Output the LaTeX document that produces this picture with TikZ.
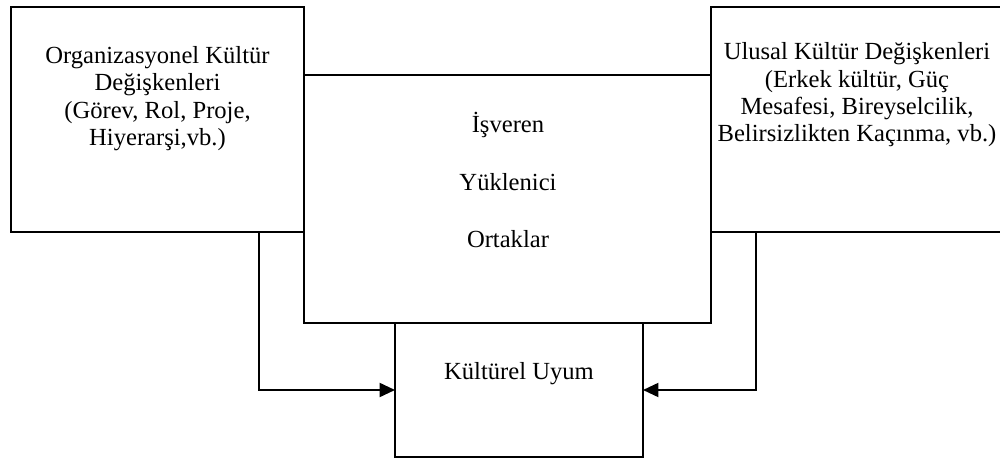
\documentclass[tikz,border=0pt]{standalone}
\usepackage{fontspec}
\setmainfont{Liberation Serif}
\usetikzlibrary{arrows.meta}

\begin{document}
\begin{tikzpicture}[
    kutu/.style={draw, line width=1.4pt, fill=white, inner sep=0pt, outer sep=0pt},
    metin/.style={align=center, font=\fontsize{17.5}{19.5}\selectfont},
    ok/.style={line width=1.4pt, -{Triangle[length=11pt,width=10pt]}}
  ]
  \useasboundingbox (0,0) rectangle (25,-11.5);
  % orta kutu ve altindaki uyum kutusu
  \node[kutu, minimum width=10.175cm, minimum height=6.2cm] (taraflar) at (12.6875,-4.975) {};
  \node[kutu, minimum width=6.2cm, minimum height=3.35cm] (uyum) at (12.975,-9.75) {};
  % iki yan kutu
  \node[kutu, minimum width=7.325cm, minimum height=5.625cm] (orgkultur) at (3.9375,-2.9875) {};
  \node[kutu, minimum width=7.325cm, minimum height=5.625cm] (ulusal) at (21.4375,-2.9875) {};
  % yazilar
  \node[metin] (orgmetin) at (3.9375,-2.47) {Organizasyonel Kültür\\Değişkenleri\\(Görev, Rol, Proje,\\Hiyerarşi,vb.)};
  \node[metin] (ulusalmetin) at (21.425,-2.37) {Ulusal Kültür Değişkenleri\\(Erkek kültür, Güç\\Mesafesi, Bireyselcilik,\\Belirsizlikten Kaçınma, vb.)};
  \node[metin] (tarafmetin) at (12.7,-4.5) {İşveren\\[21.3pt]Yüklenici\\[21.3pt]Ortaklar};
  \node[metin] (uyummetin) at (12.975,-9.33) {Kültürel Uyum};
  % oklar
  \draw[ok] ([xshift=6.2cm]orgkultur.south west) |- (uyum.west);
  \draw[ok] ([xshift=1.125cm]ulusal.south west) |- (uyum.east);
\end{tikzpicture}
\end{document}
